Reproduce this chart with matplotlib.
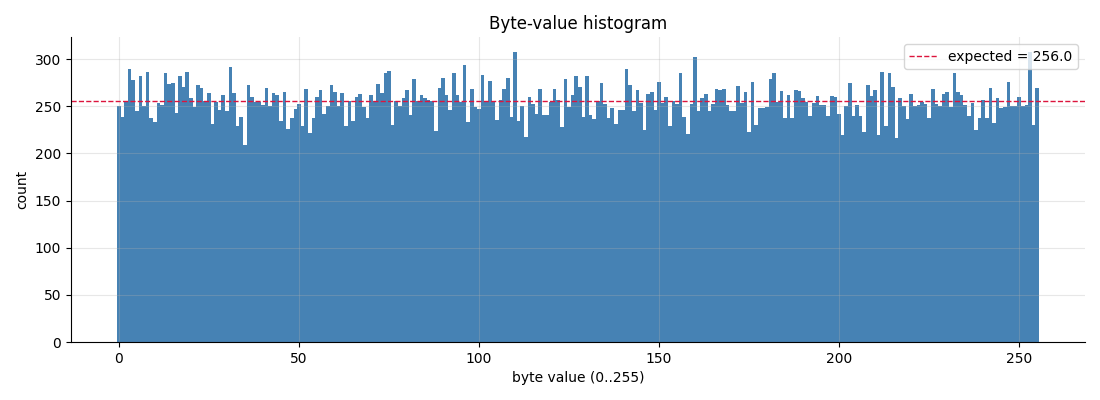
import numpy as np
import matplotlib
matplotlib.use("Agg")
import matplotlib.pyplot as plt

byte_values = np.arange(256)
counts = [
    250, 239, 255, 289, 278, 245, 282, 250, 286, 238,
    233, 253, 251, 285, 274, 275, 243, 282, 270, 286,
    259, 249, 272, 269, 256, 264, 231, 255, 246, 262,
    245, 292, 264, 229, 239, 209, 272, 260, 254, 255,
    251, 269, 250, 264, 262, 234, 265, 226, 237, 247,
    252, 229, 268, 222, 238, 260, 267, 242, 250, 272,
    265, 250, 264, 229, 256, 234, 260, 263, 249, 238,
    262, 256, 274, 264, 285, 287, 230, 256, 250, 259,
    267, 241, 279, 256, 262, 259, 257, 256, 224, 269,
    280, 262, 246, 285, 262, 255, 294, 233, 268, 249,
    247, 283, 255, 277, 255, 235, 257, 268, 280, 239,
    308, 234, 250, 217, 260, 252, 242, 268, 241, 241,
    255, 268, 257, 228, 279, 249, 262, 282, 270, 239,
    282, 241, 236, 256, 275, 252, 238, 248, 231, 246,
    246, 289, 272, 245, 267, 253, 225, 263, 265, 246,
    276, 253, 260, 229, 256, 252, 285, 239, 221, 252,
    302, 245, 259, 263, 245, 252, 268, 267, 268, 251,
    245, 245, 271, 253, 265, 223, 276, 230, 248, 248,
    249, 279, 285, 254, 266, 237, 262, 238, 267, 266,
    259, 254, 240, 253, 261, 251, 251, 240, 261, 260,
    242, 220, 250, 275, 240, 251, 240, 223, 272, 261,
    267, 220, 286, 229, 285, 270, 216, 259, 250, 236,
    263, 250, 251, 254, 252, 238, 268, 252, 250, 263,
    265, 249, 285, 265, 262, 251, 240, 253, 225, 238,
    257, 238, 269, 232, 259, 248, 249, 276, 250, 250,
    260, 250, 251, 307, 230, 269,
]
expected = 256.0

fig, ax = plt.subplots(figsize=(11, 4), dpi=100)
fig.subplots_adjust(left=0.0645, right=0.9864, top=0.9075, bottom=0.145)

bins = np.arange(257) - 0.5
ax.hist(byte_values, bins=bins, weights=counts, color="steelblue")
ax.axhline(expected, color="crimson", linestyle="--", linewidth=1,
           label=f"expected = {expected}")

ax.set_title("Byte-value histogram")
ax.set_xlabel("byte value (0..255)")
ax.set_ylabel("count")
ax.grid(alpha=0.3)
ax.spines["top"].set_visible(False)
ax.spines["right"].set_visible(False)
ax.legend(loc="upper right")

fig.savefig("out.png", dpi=100)
